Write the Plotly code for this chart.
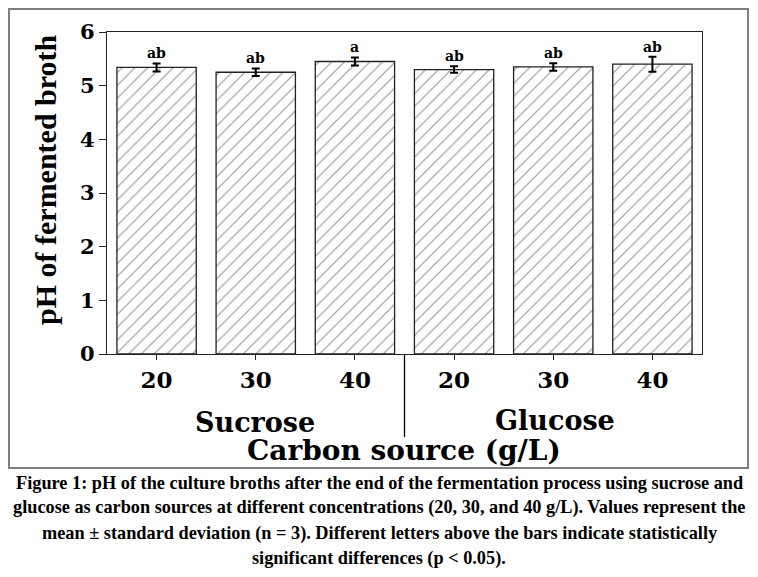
import plotly.graph_objects as go

# ---- data ----
groups = ["Sucrose", "Sucrose", "Sucrose", "Glucose", "Glucose", "Glucose"]
concentrations = ["20", "30", "40", "20", "30", "40"]
ph_mean = [5.34, 5.25, 5.45, 5.30, 5.35, 5.40]
ph_sd = [0.075, 0.07, 0.075, 0.06, 0.07, 0.14]
letters = ["ab", "ab", "a", "ab", "ab", "ab"]
group_names = ["Sucrose", "Glucose"]
y_ticks = [0, 1, 2, 3, 4, 5, 6]

caption_lines = [
    "Figure 1: pH of the culture broths after the end of the fermentation process using sucrose and",
    "glucose as carbon sources at different concentrations (20, 30, and 40 g/L). Values represent the",
    "mean ± standard deviation (n = 3). Different letters above the bars indicate statistically",
    "significant differences (p < 0.05).",
]

OFF = 8  # page body margin offset
W, H = 758 - OFF, 577 - OFF
L, R, T, B = 107 - OFF, 702 - OFF, 32 - OFF, 354 - OFF  # plot area in figure pixels


def px_x(px):
    return (px - OFF - L) / (R - L)


def px_y(py):
    return (B - (py - OFF)) / (B - T)


xpos = list(range(len(ph_mean)))

fig = go.Figure()
fig.add_trace(go.Bar(
    x=xpos, y=ph_mean, width=0.8,
    marker=dict(color="white",
                line=dict(color="#222222", width=1.3),
                pattern=dict(shape="/", fgcolor="#333333", bgcolor="white",
                             size=9, solidity=0.13)),
    error_y=dict(type="data", array=ph_sd, visible=True,
                 color="black", thickness=2, width=4),
    showlegend=False,
))

serif = "Liberation Serif"
wide = "DejaVu Serif"

annotations = []
for i, (v, e, t) in enumerate(zip(ph_mean, ph_sd, letters)):
    annotations.append(dict(x=i, y=v + e, xref="x", yref="y", text=t,
                            showarrow=False, xanchor="center", yanchor="bottom", yshift=0,
                            font=dict(family=wide, size=14, color="black", weight="bold")))


def ann(xp, yp, text, font, **kw):
    d = dict(x=px_x(xp), y=px_y(yp), xref="paper", yref="paper", text=text,
             showarrow=False, xanchor="center", yanchor="middle", font=font)
    d.update(kw)
    return d


annotations.append(ann(45, 180, "pH of fermented broth",
                       dict(family=serif, size=30, color="black", weight="bold"), textangle=-90))
annotations.append(ann(255, 423, group_names[0],
                       dict(family=wide, size=27, color="black", weight="bold")))
annotations.append(ann(555, 420, group_names[1],
                       dict(family=wide, size=27, color="black", weight="bold")))
annotations.append(ann(404, 450, "Carbon source (g/L)",
                       dict(family=wide, size=28, color="black", weight="bold")))
for k, line in enumerate(caption_lines):
    annotations.append(ann(379, 483 + 25 * k, line,
                           dict(family=serif, size=18.3, color="black", weight="bold")))

shapes = [
    dict(type="rect", xref="paper", yref="paper",
         x0=px_x(9), x1=px_x(748), y0=px_y(468), y1=px_y(9),
         line=dict(color="#7f7f7f", width=2), fillcolor="rgba(0,0,0,0)", layer="below"),
    dict(type="line", xref="x", yref="paper", x0=2.5, x1=2.5, y0=0, y1=px_y(437),
         line=dict(color="black", width=1.3)),
]

fig.update_layout(
    width=W, height=H,
    margin=dict(l=L, r=W - R, t=T, b=H - B, pad=0),
    paper_bgcolor="white", plot_bgcolor="white",
    annotations=annotations, shapes=shapes,
    xaxis=dict(range=[-0.5, 5.5], tickmode="array", tickvals=xpos, ticktext=concentrations,
               showline=True, linecolor="#222222", linewidth=1.3, mirror=True,
               ticks="outside", ticklen=5, tickwidth=1.3, tickcolor="#222222",
               showgrid=False, zeroline=False,
               tickfont=dict(family=wide, size=23, color="black", weight="bold")),
    yaxis=dict(range=[0, 6], tickmode="array", tickvals=y_ticks,
               showline=True, linecolor="#222222", linewidth=1.3, mirror=True,
               ticks="outside", ticklen=7, tickwidth=1.3, tickcolor="#222222",
               showgrid=False, zeroline=False,
               tickfont=dict(family=wide, size=21, color="black", weight="bold")),
)

fig.write_html("out.html")
